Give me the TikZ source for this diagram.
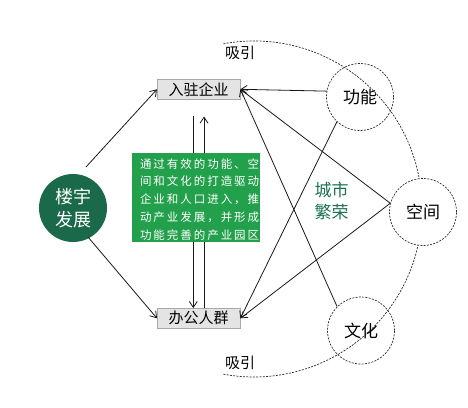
\documentclass[tikz,border=0pt]{standalone}
\usepackage{fontspec}
\setmainfont{Noto Sans CJK SC}
\newfontfamily\widecjk[LetterSpace=17]{Noto Sans CJK SC}
\usetikzlibrary{arrows.meta}

\definecolor{deepgreen}{HTML}{19694A}
\definecolor{leafgreen}{HTML}{22A04B}
\definecolor{citygreen}{HTML}{1A7350}
\definecolor{boxgray}{HTML}{E4E4E4}
\definecolor{boxborder}{HTML}{A8A8A8}
\definecolor{inkgray}{HTML}{2A2A2A}

\tikzset{
  tagbox/.style={draw=boxborder, fill=boxgray, minimum width=83pt, minimum height=20pt,
    inner sep=0pt, font=\fontsize{15}{18}\selectfont},
  dashcircle/.style={circle, draw=inkgray, line width=0.7pt, dash pattern=on 2pt off 1.3pt,
    minimum size=67pt, inner sep=0pt, font=\fontsize{17}{20}\selectfont},
  link/.style={->, draw=black!90, line width=0.8pt},
}

\begin{document}
\begin{tikzpicture}[x=1pt, y=1pt, >={Straight Barb[length=6pt,width=8pt]}]
  \useasboundingbox (0,0) rectangle (468,-407);

  % Boxes and source circle
  \node[tagbox] (qiye) at (198.7,-89.3) {入驻企业};
  \node[tagbox] (bangong) at (198.7,-318.3) {办公人群};
  \node[circle, fill=deepgreen, minimum size=68pt, inner sep=0pt, text=white, align=center,
    font=\fontsize{18}{23}\selectfont] (louyu) at (73,-208) {楼宇\\发展};
  \coordinate (lu1) at (86,-167);
  \coordinate (lu2) at (88,-237);

  % Attraction arc with its labels
  \coordinate (arcstart) at (223.4,-43.8);
  \draw[inkgray, line width=0.7pt, dash pattern=on 2pt off 1.3pt]
    (arcstart) arc[start angle=100.5, end angle=-100.5, radius=168];
  \node[font=\fontsize{15}{18}\selectfont] (xiyin1) at (240,-53.3) {吸引};
  \node[font=\fontsize{15}{18}\selectfont] (xiyin2) at (240,-363) {吸引};

  % Factor circles
  \node[dashcircle] (gongneng) at (360,-97) {功能};
  \node[dashcircle, fill=white] (kongjian) at (423,-212) {空间};
  \node[dashcircle] (wenhua) at (361,-330.5) {文化};
  \node[text=citygreen, align=center, font=\fontsize{17}{22}\selectfont] (fanrong)
    at (331.7,-201) {城市\\繁荣};

  % Arrows
  \draw[link] (lu1) -- (qiye.west);
  \draw[link] (lu2) -- (bangong.west);
  \draw[link] ([xshift=-5.4pt,yshift=-16pt]qiye.south) -- ([xshift=-5.4pt]bangong.north);
  \draw[link] ([xshift=5.3pt]bangong.north) -- ([xshift=5.3pt,yshift=-17pt]qiye.south);
  \draw[link] (gongneng.170) -- (qiye.east);
  \draw[link] (kongjian.165) -- (qiye.east);
  \draw[link] (wenhua.135) -- (qiye.east);
  \draw[link] (gongneng.227) -- (bangong.east);
  \draw[link] (kongjian.165) -- (bangong.east);

  % Note box
  \node[fill=leafgreen, minimum width=128.3pt, minimum height=88.4pt, inner sep=0pt]
    (note) at (195.9,-197.5) {};
  \node[anchor=north west, inner sep=0pt, text=white, align=left,
    font=\widecjk\fontsize{11.5}{17.9}\selectfont] (notetext)
    at ([xshift=8.3pt,yshift=-5pt]note.north west)
    {通过有效的功能、空\\间和文化的打造驱动\\企业和人口进入，推\\动产业发展，并形成\\功能完善的产业园区};
\end{tikzpicture}
\end{document}
